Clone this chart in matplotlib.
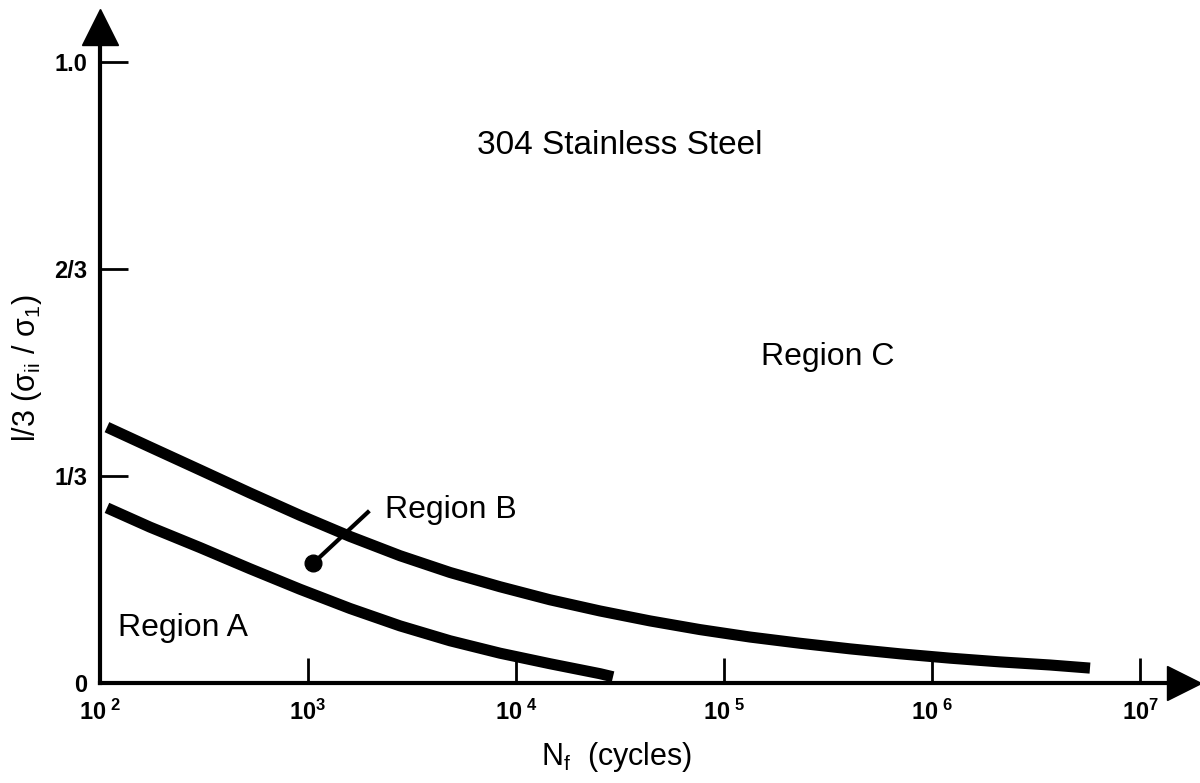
#!/usr/bin/env python
# coding: utf-8

import matplotlib
matplotlib.use('Agg')
import matplotlib.pyplot as plt
import numpy as np

# plot params - helvetica-ish look
plt.rcParams['font.family'] = ['Liberation Sans', 'DejaVu Sans']
plt.rcParams['mathtext.fontset'] = 'custom'
plt.rcParams['mathtext.rm'] = 'Liberation Sans'
plt.rcParams['mathtext.it'] = 'Liberation Sans:italic'
plt.rcParams['mathtext.bf'] = 'Liberation Sans:bold'
plt.rcParams['mathtext.default'] = 'regular'

# boundary between Region B and Region C
upper_n = [108, 174, 303, 526, 915, 1592, 2769, 4817, 8378, 14573, 25340, 44080,
           76660, 1.334e5, 2.319e5, 4.034e5, 7.019e5, 1.221e6, 2.123e6, 3.693e6, 5.748e6]
upper_y = [0.412, 0.380, 0.343, 0.306, 0.270, 0.236, 0.205, 0.178, 0.155, 0.134, 0.116, 0.100,
           0.086, 0.074, 0.064, 0.055, 0.047, 0.040, 0.034, 0.029, 0.024]

# boundary between Region A and Region B
lower_n = [108, 174, 303, 526, 915, 1592, 2769, 4817, 8378, 14573, 25340, 29270]
lower_y = [0.282, 0.251, 0.218, 0.184, 0.151, 0.120, 0.092, 0.068, 0.048, 0.031, 0.015, 0.010]

# axis ticks
x_ticks = [1e2, 1e3, 1e4, 1e5, 1e6, 1e7]
x_tick_labels = [r'$\mathbf{10}^{\ \mathbf{2}}$', r'$\mathbf{10}^{\mathbf{3}}$',
                 r'$\mathbf{10}^{\ \mathbf{4}}$', r'$\mathbf{10}^{\ \mathbf{5}}$',
                 r'$\mathbf{10}^{\ \mathbf{6}}$', r'$\mathbf{10}^{\mathbf{7}}$']
y_ticks = [0, 1/3, 2/3, 1.0]
y_tick_labels = ['0', '1/3', '2/3', '1.0']

# region B pointer (dot, end of leader line)
ptr_n = [1.06e3, 1.94e3]
ptr_y = [0.193, 0.275]

fig = plt.figure(figsize=(12, 7.83), dpi=100)
ax = fig.add_axes([100/1200, 100/783, 1084/1200, 656/783])

ax.set_xscale('log')
ax.set_xlim(1e2, 10**7.2115)
ax.set_ylim(0, 1.0564)

# the two boundary curves
ax.plot(upper_n, upper_y, color='black', lw=8, solid_capstyle='butt', solid_joinstyle='round')
ax.plot(lower_n, lower_y, color='black', lw=8, solid_capstyle='butt', solid_joinstyle='round')

# leader line to region B
ax.plot(ptr_n, ptr_y, color='black', lw=3)
ax.plot(ptr_n[0], ptr_y[0], 'o', color='black', ms=12)

# labels inside the plot
ax.text(3.16e4, 0.866, '304 Stainless Steel', ha='center', va='center', fontsize=24)
ax.text(3.16e5, 0.525, 'Region C', ha='center', va='center', fontsize=23)
ax.text(2.34e3, 0.279, 'Region B', ha='left', va='center', fontsize=23)
ax.text(1.22e2, 0.0886, 'Region A', ha='left', va='center', fontsize=23)

# axes styling: only left and bottom, with arrow heads
for s in ['top', 'right']:
    ax.spines[s].set_visible(False)
for s in ['left', 'bottom']:
    ax.spines[s].set_linewidth(3)
ax.plot(0, 1, '^', color='black', ms=26, transform=ax.transAxes, clip_on=False)
ax.plot(1, 0, '>', color='black', ms=24, transform=ax.transAxes, clip_on=False)

ax.set_xticks(x_ticks)
ax.set_xticklabels(x_tick_labels)
ax.set_yticks(y_ticks)
ax.set_yticklabels(y_tick_labels, fontweight='bold')
ax.minorticks_off()
ax.tick_params(axis='x', direction='in', length=18, width=2, pad=12, labelsize=17)
ax.tick_params(axis='y', direction='in', length=20, width=2, pad=9, labelsize=17)

fig.text(27/1200, 1 - 368/783, r'l/3 (σ$_{ii}$ / σ$_{1}$)', rotation=90,
         ha='center', va='center', fontsize=22)
fig.text(617/1200, 1 - 757/783, r'N$_{f}$  (cycles)', ha='center', va='center', fontsize=22)

plt.savefig('out.png', dpi=100)
plt.close()
